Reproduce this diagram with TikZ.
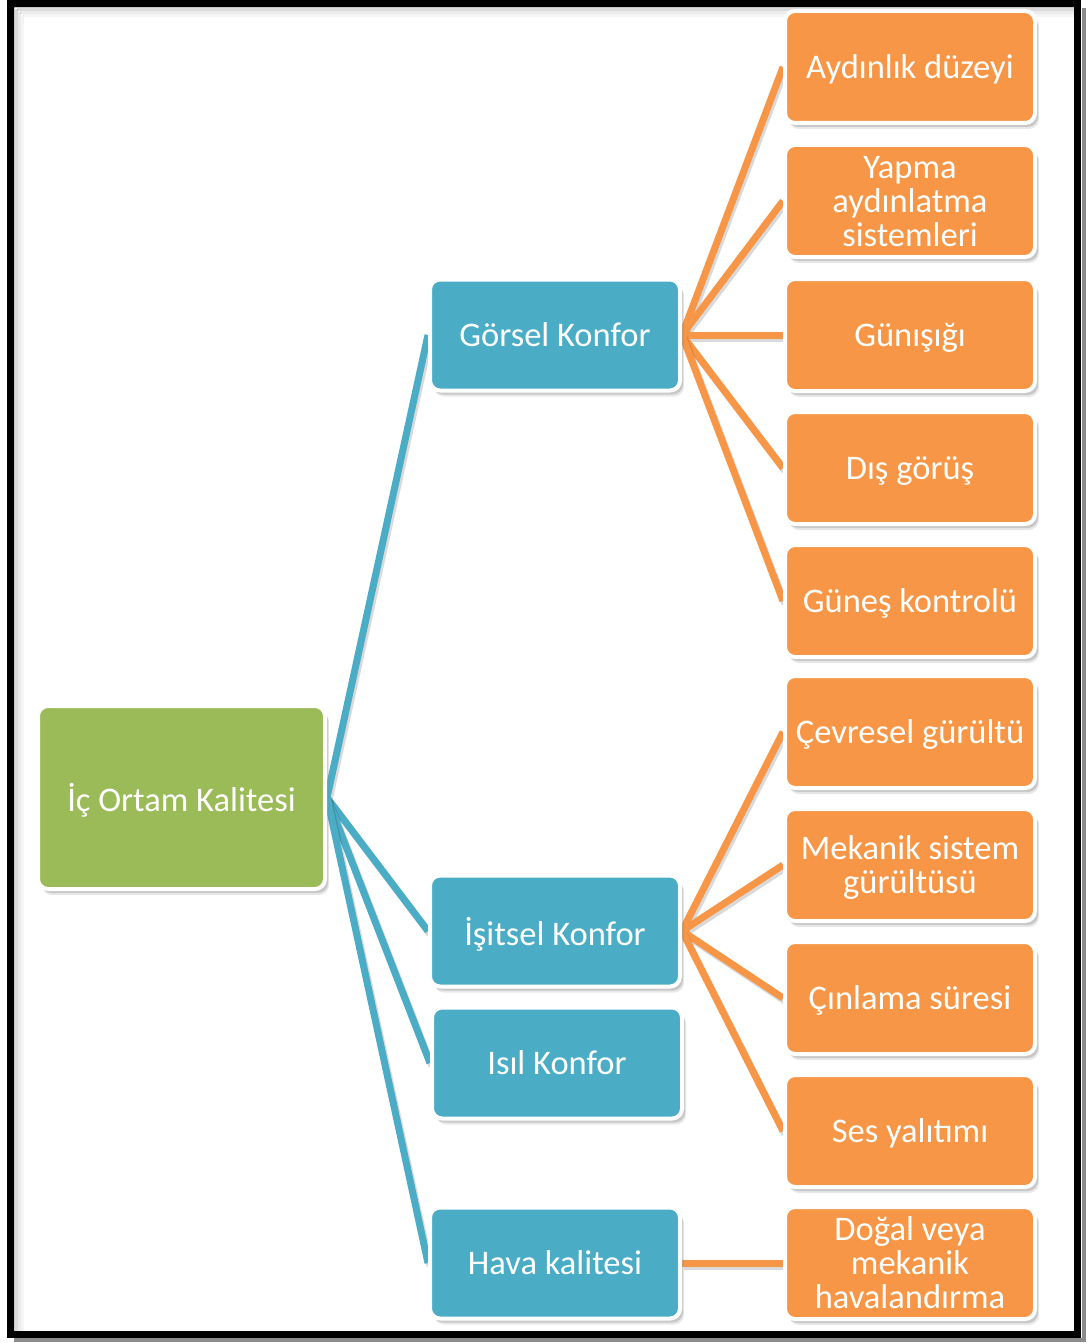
\documentclass[tikz,border=0pt]{standalone}
\usepackage{fontspec}
\setmainfont{Carlito}
\usetikzlibrary{shadows,backgrounds}
\definecolor{boxorange}{HTML}{F79646}
\definecolor{boxblue}{HTML}{4BACC6}
\definecolor{boxgreen}{HTML}{9BBB59}
\begin{document}
\begin{tikzpicture}[x=1pt,y=-1pt,
  box/.style={rectangle, rounded corners=10pt, draw=white, line width=4pt,
    text=white, align=center, inner sep=0pt, text depth=-3pt,
    font=\fontsize{34.5}{34}\selectfont,
    drop shadow={shadow xshift=4pt, shadow yshift=-6pt, opacity=0.18},
    drop shadow={shadow xshift=3pt, shadow yshift=-4pt, opacity=0.3}},
  leafbox/.style={box, fill=boxorange, minimum width=250pt, minimum height=112pt},
  midbox/.style={box, fill=boxblue, minimum width=250pt, minimum height=111pt},
  rootbox/.style={box, fill=boxgreen, minimum width=287pt, minimum height=183pt},
  conn/.style={line width=7pt, preaction={draw=black, opacity=0.15, line width=7pt, transform canvas={xshift=2pt, yshift=-3pt}}},
  blueconn/.style={conn, draw=boxblue},
  orangeconn/.style={conn, draw=boxorange}]
\useasboundingbox (0,0) rectangle (1089,1343);

% root
\node[rootbox] (root) at (181.5,797.5) {İç Ortam Kalitesi};

% middle level
\node[midbox] (gorsel) at (555,335) {Görsel Konfor};
\node[midbox] (isitsel) at (555,931) {İşitsel Konfor};
\node[midbox] (isil) at (557,1063) {Isıl Konfor};
\node[midbox] (hava) at (555,1263) {Hava kalitesi};

% leaves
\node[leafbox] (aydinlik) at (910,67) {Aydınlık düzeyi};
\node[leafbox] (yapma) at (910,201) {Yapma\\aydınlatma\\sistemleri};
\node[leafbox] (gunisigi) at (910,335) {Günışığı};
\node[leafbox] (disgorus) at (910,468) {Dış görüş};
\node[leafbox] (gunes) at (910,601) {Güneş kontrolü};
\node[leafbox] (cevresel) at (910,732) {Çevresel gürültü};
\node[leafbox] (mekanik) at (910,865) {Mekanik sistem\\gürültüsü};
\node[leafbox] (cinlama) at (910,998) {Çınlama süresi};
\node[leafbox] (ses) at (910,1131) {Ses yalıtımı};
\node[leafbox] (dogal) at (910,1263) {Doğal veya\\mekanik\\havalandırma};

\begin{scope}[on background layer]
  \fill[white] (0,0) rectangle (1089,1343);
  % frame with soft inner shading
  \foreach \d/\o in {3/0.22,6/0.14,9/0.08,12/0.04}{
    \draw[black, opacity=\o, line width=3pt] (10.5+\d,3.5+\d) -- (10.5+\d,1334.5);
    \draw[black, opacity=\o, line width=3pt] (10.5+\d,3.5+\d) -- (1077.5,3.5+\d);
  }
  \draw[black!45, line width=4pt] (14,1339.5) -- (1083.5,1339.5) -- (1083.5,8);
  \draw[black, line width=7pt] (10.5,3.5) rectangle (1077.5,1334.5);

  % connectors
  \draw[blueconn] (root.east) -- (gorsel.west);
  \draw[blueconn] (root.east) -- (isitsel.west);
  \draw[blueconn] (root.east) -- (isil.west);
  \draw[blueconn] (root.east) -- (hava.west);

  \foreach \t in {aydinlik,yapma,gunisigi,disgorus,gunes}
    \draw[orangeconn] (gorsel.east) -- (\t.west);
  \foreach \t in {cevresel,mekanik,cinlama,ses}
    \draw[orangeconn] (isitsel.east) -- (\t.west);
  \draw[orangeconn] (hava.east) -- (dogal.west);
\end{scope}
\end{tikzpicture}
\end{document}
